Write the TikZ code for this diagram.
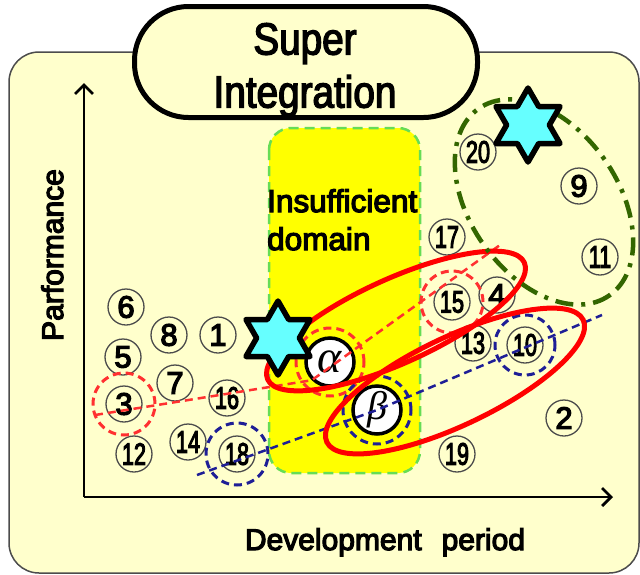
\documentclass[tikz,border=0pt]{standalone}
\usepackage{fontspec}
\setmainfont{Liberation Sans}
\newfontface\gothic[FakeBold=4]{Liberation Sans}
\newfontface\titlefont[FakeStretch=0.86, FakeBold=3]{Liberation Sans}
\newfontfamily\greekfont{Liberation Serif}
\usepackage{graphicx}
\usetikzlibrary{arrows.meta,shapes.geometric}
\definecolor{paper}{HTML}{FFFFCC}
\definecolor{domainyellow}{HTML}{FFFF00}
\definecolor{domaingreen}{HTML}{66DD55}
\definecolor{starcyan}{HTML}{66FFFF}
\definecolor{ringred}{HTML}{FF0000}
\definecolor{dashred}{HTML}{FF3030}
\definecolor{dashblue}{HTML}{1E1E96}
\definecolor{olive}{HTML}{336600}
\newcommand{\narrow}[1]{\scalebox{0.7}[1]{#1}}
\tikzset{
  numcirc/.style={circle, draw=black!70, line width=1.3pt,
    minimum size=36pt, inner sep=0pt,
    font=\gothic\fontsize{31}{31}\selectfont},
  greekcirc/.style={circle, draw=black, fill=white, line width=3.5pt,
    minimum size=48pt, inner sep=0pt},
  redhalo/.style={circle, draw=dashred, dash pattern=on 8pt off 5pt,
    line width=3pt, minimum size=#1, inner sep=0pt},
  redhalo/.default=62pt,
  bluehalo/.style={circle, draw=dashblue, dash pattern=on 8pt off 5pt,
    line width=3pt, minimum size=#1, inner sep=0pt},
  bluehalo/.default=62pt,
  trendline/.style={draw=#1, dash pattern=on 8pt off 5pt, line width=2.5pt},
  groupring/.style={draw=ringred, line width=5pt},
  starmark/.style={star, star points=6, star point ratio=1.732,
    minimum size=74pt, inner sep=0pt, fill=starcyan, draw=black,
    line width=5.5pt, line join=round},
  axislabel/.style={font=\gothic\fontsize{30}{30}\selectfont, inner sep=0pt},
  axisline/.style={line width=2.8pt, -{Straight Barb[length=9pt,width=18pt,line width=2.8pt]}},
}
\begin{document}
\begin{tikzpicture}[x=1pt, y=-1pt]
  \useasboundingbox[fill=white] (0,0) rectangle (640,574);
  % frame and title
  \draw[fill=paper, draw=black!70, line width=1.5pt, rounded corners=30pt] (9,52) rectangle (639,573);
  \node[draw=black, fill=paper, line width=5pt, rounded corners=54pt,
    minimum width=343pt, minimum height=111pt] (title) at (306,62) {};
  \node[font=\titlefont\fontsize{45}{53}\selectfont, align=center, inner sep=0pt] (titletext) at (305,70) {Super\\Integration};
  % axes
  \coordinate (origin) at (84,497);
  \coordinate (ytip) at (84,83);
  \coordinate (xtip) at (613,497);
  \draw[axisline] (origin) -- (ytip);
  \draw[axisline] (origin) -- (xtip);
  \node[axislabel, rotate=90, anchor=base] (ylabel) at (63,255) {Parformance};
  \node[axislabel, anchor=base] (xlabel) at (385,550) {Development\hspace{20pt}period};
  % insufficient domain
  \draw[fill=domainyellow, draw=domaingreen, line width=2.5pt, dash pattern=on 10pt off 6pt,
    rounded corners=22pt] (269,128) rectangle (420,473);
  \node[font=\gothic\fontsize{31.5}{38}\selectfont, align=left, anchor=north west, inner sep=0pt] (domain) at (267,189) {Insufficient\\domain};
  % numbered cases
  \node[numcirc] (n1) at (218,335) {1};
  \node[numcirc] (n2) at (564,418) {2};
  \node[numcirc] (n3) at (124,404) {3};
  \node[numcirc] (n4) at (497,295) {4};
  \node[numcirc] (n5) at (123,357) {5};
  \node[numcirc] (n6) at (126,307) {6};
  \node[numcirc] (n7) at (175,383) {7};
  \node[numcirc] (n8) at (169,335) {8};
  \node[numcirc] (n9) at (579,186) {9};
  \node[numcirc] (n10) at (525,345) {\narrow{10}};
  \node[numcirc] (n11) at (600,257) {\narrow{11}};
  \node[numcirc] (n12) at (134,454) {\narrow{12}};
  \node[numcirc] (n13) at (473,343) {\narrow{13}};
  \node[numcirc] (n14) at (188,442) {\narrow{14}};
  \node[numcirc] (n15) at (452,302) {\narrow{15}};
  \node[numcirc] (n16) at (227,398) {\narrow{16}};
  \node[numcirc] (n17) at (447,237) {\narrow{17}};
  \node[numcirc] (n18) at (237,454) {\narrow{18}};
  \node[numcirc] (n19) at (457,454) {\narrow{19}};
  \node[numcirc] (n20) at (478,152) {\narrow{20}};
  \node[greekcirc, font=\greekfont\itshape\fontsize{46}{46}\selectfont] (alpha) at (330,362) {α};
  \node[greekcirc, font=\greekfont\itshape\fontsize{40}{40}\selectfont] (beta) at (377,410) {β};
  % trends
  \coordinate (redS) at (95,415);
  \coordinate (redE) at (500,245);
  \coordinate (blueS) at (197,475);
  \coordinate (blueE) at (602,315);
  \draw[trendline=dashred] (redS) -- (alpha.south west) -- (redE);
  \draw[trendline=dashblue] (blueS) -- (beta.center) -- (blueE);
  \node[redhalo] (h3) at (n3) {};
  \node[redhalo=68pt] (halpha) at (alpha) {};
  \node[redhalo] (h15) at (n15) {};
  \node[bluehalo] (h18) at (n18) {};
  \node[bluehalo=68pt] (hbeta) at (beta) {};
  \node[bluehalo=60pt] (h10) at (n10) {};
  % groups
  \draw[groupring, rotate around={24.5:(396,321)}] (396,321) ellipse [x radius=141, y radius=42];
  \draw[groupring, rotate around={25.5:(455,381)}] (455,381) ellipse [x radius=142, y radius=44];
  \draw[draw=olive, line width=4.5pt, dash pattern=on 18pt off 8pt on 4pt off 8pt,
    rotate around={-55:(544,202)}] (544,202) ellipse [x radius=114, y radius=74];
  \node[starmark] (starA) at (278,338) {};
  \node[starmark] (starB) at (528,125) {};
\end{tikzpicture}
\end{document}
